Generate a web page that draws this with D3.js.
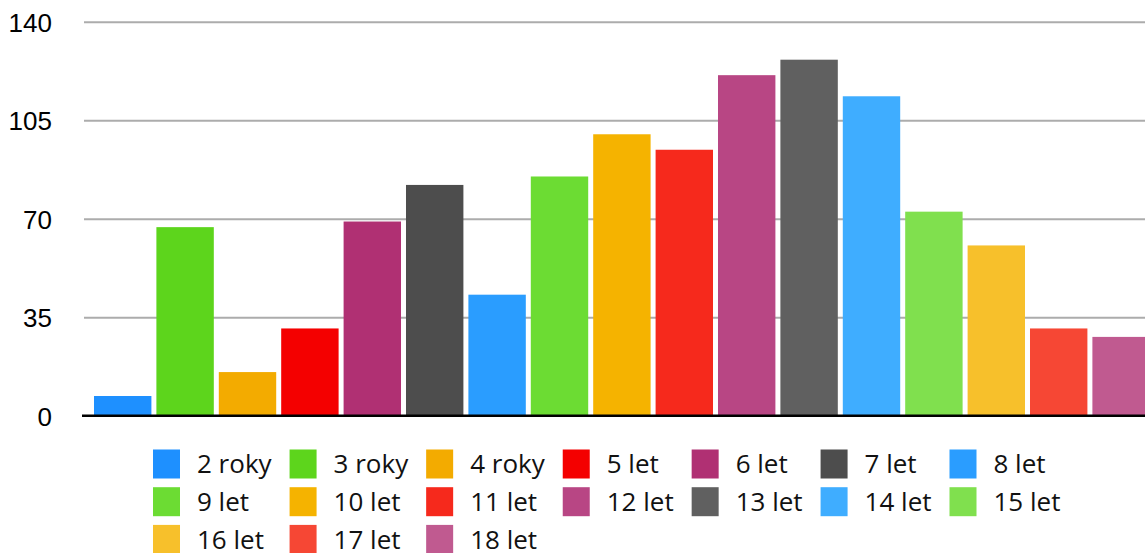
<!DOCTYPE html>
<html>
<head>
<meta charset="utf-8">
<script src="https://cdn.jsdelivr.net/npm/d3@7"></script>
<style>
  html, body { margin: 0; padding: 0; background: #fff; }
  svg { display: block; }
</style>
</head>
<body>
<div class="canvas"></div>
<script>
const categories = ['2 roky', '3 roky', '4 roky', '5 let', '6 let', '7 let', '8 let', '9 let', '10 let',
  '11 let', '12 let', '13 let', '14 let', '15 let', '16 let', '17 let', '18 let'];
const values = [7, 67, 15.5, 31, 69, 82, 43, 85, 100, 94.5, 121, 126.5, 113.5, 72.5, 60.5, 31, 28];
const colors = ['#1e90ff', '#5dd51c', '#f3ab00', '#f40000', '#b03073', '#4d4d4d', '#2a9dff', '#6cdc33',
  '#f5b300', '#f6291c', '#b84684', '#606060', '#3fadff', '#80e04e', '#f7c02b', '#f64734', '#c05a90'];
const yTicks = [0, 35, 70, 105, 140];

const width = 1145;
const height = 553;

const svg = d3
  .select('.canvas')
  .append('svg')
  .attr('width', width)
  .attr('height', height);

const x = d3
  .scaleBand()
  .domain(categories)
  .range([91.5, 1152.3])
  .paddingInner(0.08)
  .paddingOuter(0.04);

const y = d3.scaleLinear().domain([0, 140]).range([415.7, 21.7]);

// gridlines
const yAxis = d3
  .axisLeft(y)
  .tickValues(yTicks)
  .tickSize(-(width - 84))
  .tickPadding(32);

const axisG = svg.append('g').attr('transform', 'translate(84,0)').call(yAxis);
axisG.select('.domain').remove();
axisG
  .selectAll('.tick line')
  .attr('stroke', '#acacac')
  .attr('stroke-width', 2)
  .attr('display', d => (d === 0 ? 'none' : null));
axisG
  .selectAll('.tick text')
  .attr('fill', '#000')
  .attr('font-family', '"Liberation Sans", Arial, sans-serif')
  .attr('font-size', 26)
  .attr('dy', '0.36em');

// bars
svg
  .append('g')
  .selectAll('rect')
  .data(values)
  .join('rect')
  .attr('x', (d, i) => x(categories[i]))
  .attr('width', x.bandwidth())
  .attr('y', d => y(d))
  .attr('height', d => y(0) - y(d))
  .attr('fill', (d, i) => colors[i]);

// baseline
svg
  .append('line')
  .attr('x1', 82)
  .attr('x2', width)
  .attr('y1', y(0))
  .attr('y2', y(0))
  .attr('stroke', '#000')
  .attr('stroke-width', 2.4);

// legend, 7 per row, column width from widest label
const perRow = 7;
const sw = 27;
const sh = 29;
const legend = svg.append('g').attr('font-family', '"Open Sans", "Noto Sans", sans-serif').attr('font-size', 26);

const items = legend
  .selectAll('g')
  .data(categories)
  .join('g');

items
  .append('rect')
  .attr('width', sw)
  .attr('height', sh)
  .attr('fill', (d, i) => colors[i]);

items
  .append('text')
  .attr('x', sw + 17)
  .attr('y', sh / 2)
  .attr('dy', '0.35em')
  .attr('fill', '#111')
  .text(d => d);

const colW = d3.range(perRow).map(c =>
  d3.max(items.filter((d, i) => i % perRow === c).select('text').nodes(), n => n.getComputedTextLength())
);
const colX = [153];
colW.forEach((w, c) => colX.push(colX[c] + sw + 17 + w + 18));

items.attr('transform', (d, i) => `translate(${colX[i % perRow]},${449.5 + Math.floor(i / perRow) * 37.7})`);
</script>
</body>
</html>
